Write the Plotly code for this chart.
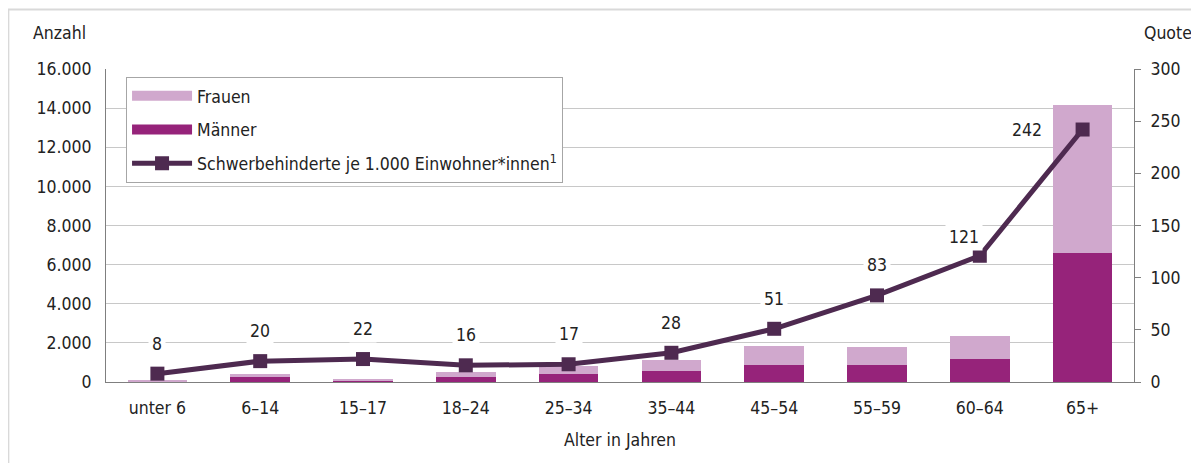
import plotly.graph_objects as go

categories = ["unter 6", "6–14", "15–17", "18–24", "25–34", "35–44", "45–54", "55–59", "60–64", "65+"]
maenner = [50, 260, 70, 260, 410, 560, 870, 870, 1175, 6595]
frauen = [50, 150, 80, 250, 410, 565, 970, 920, 1175, 7565]
quote = [8, 20, 22, 16, 17, 28, 51, 83, 121, 242]

FONT = "DejaVu Sans Condensed, Noto Sans, sans-serif"
TXT = "#222222"
FS = 17.5
C_M = "#96237A"
C_F = "#D0A8CD"
C_L = "#4E2A50"

fig = go.Figure()
fig.add_trace(go.Bar(x=categories, y=maenner, name="Männer", marker_color=C_M,
                     marker_line_width=0, showlegend=False, width=0.58))
fig.add_trace(go.Bar(x=categories, y=frauen, name="Frauen", marker_color=C_F,
                     marker_line_width=0, showlegend=False, width=0.58))
# legend entries drawn as wide bars
fig.add_trace(go.Scatter(x=[categories[0]], y=[None], mode="lines", name="Frauen",
                         line=dict(color=C_F, width=12), legendgroup="f", legendrank=1))
fig.add_trace(go.Scatter(x=[categories[0]], y=[None], mode="lines", name="Männer",
                         line=dict(color=C_M, width=12), legendgroup="m", legendrank=2))
fig.add_trace(go.Scatter(x=categories, y=quote, yaxis="y2", mode="lines+markers",
                         name="Schwerbehinderte je 1.000 Einwohner*innen<sup>1</sup>",
                         line=dict(color=C_L, width=5),
                         marker=dict(symbol="square", size=14, color=C_L),
                         legendgroup="q", legendrank=3))

shifts = {9: (-56, 0), 8: (-16, 19)}
for i, (c, v) in enumerate(zip(categories, quote)):
    xs, ys = shifts.get(i, (0, 30))
    fig.add_annotation(x=c, y=v, yref="y2", text=str(v), showarrow=False,
                       xshift=xs, yshift=ys, bgcolor="white",
                       font=dict(size=FS, color=TXT, family=FONT), borderpad=3)

fig.add_annotation(x=0, y=1, xref="paper", yref="paper", text="Anzahl",
                   showarrow=False, xanchor="right", yanchor="middle", xshift=-18, yshift=36,
                   font=dict(size=FS, color=TXT, family=FONT))
fig.add_annotation(x=1.0, y=1, xref="paper", yref="paper", text="Quote",
                   showarrow=False, xanchor="left", yanchor="middle", xshift=8, yshift=36,
                   font=dict(size=FS, color=TXT, family=FONT))

fig.add_shape(type="rect", xref="paper", yref="paper", x0=-0.095, x1=1.07, y0=-0.3, y1=1.19,
              line=dict(color="#D9D9D9", width=2), fillcolor="rgba(0,0,0,0)")

fig.update_layout(
    width=1191, height=455,
    margin=dict(l=98, r=65, t=61, b=81, autoexpand=False),
    paper_bgcolor="white", plot_bgcolor="white",
    barmode="stack",
    separators=",.",
    font=dict(family=FONT, size=FS, color=TXT),
    showlegend=True,
    legend=dict(x=0.0195, y=0.975, xanchor="left", yanchor="top",
                bordercolor="#A6A6A6", borderwidth=1, bgcolor="white",
                traceorder="grouped", tracegroupgap=8,
                font=dict(size=FS, color=TXT, family=FONT), itemwidth=60),
    xaxis=dict(range=[-0.5, 9.5], showline=True, linecolor="#7F7F7F", linewidth=1, ticks="",
               title=dict(text="Alter in Jahren", standoff=16, font=dict(size=FS)),
               tickfont=dict(size=FS), ticklabelstandoff=10, automargin=False),
    yaxis=dict(range=[0, 16000], dtick=2000, tickformat=",d", showgrid=True,
               gridcolor="#C8C8C8", gridwidth=1, showline=True, linecolor="#7F7F7F",
               ticks="", zeroline=False, tickfont=dict(size=FS), ticklabelstandoff=10,
               automargin=False),
    yaxis2=dict(range=[0, 300], dtick=50, overlaying="y", side="right", showgrid=False,
                showline=True, linecolor="#7F7F7F", ticks="outside", ticklen=6,
                tickcolor="#7F7F7F", zeroline=False, tickfont=dict(size=FS),
                ticklabelstandoff=6, automargin=False),
)

fig.write_html("out.html")
